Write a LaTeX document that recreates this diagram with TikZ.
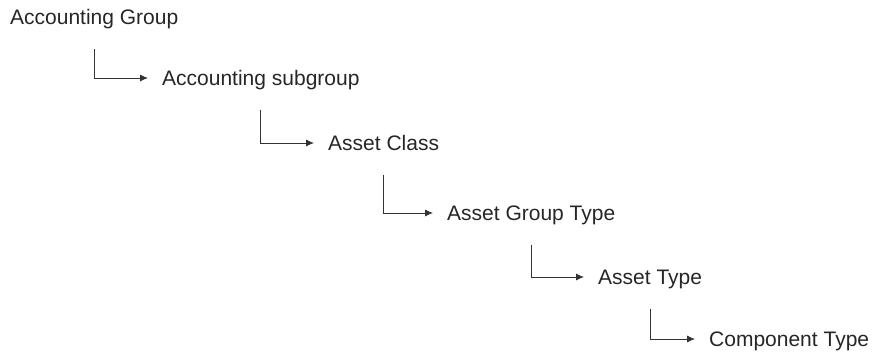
\documentclass[tikz,border=0pt]{standalone}
\usepackage{fontspec}
\setmainfont{Liberation Sans}
\usetikzlibrary{arrows.meta}

\begin{document}
\begin{tikzpicture}[x=1pt,y=-1pt,>={Latex[length=8pt,width=7pt]}]
      \tikzset{level/.style={anchor=west, inner xsep=14pt, inner ysep=0pt,
          text height=15pt, text depth=0pt, text=black!85,
          font=\fontsize{21}{25}\selectfont}}
      \useasboundingbox (0,0) rectangle (874,352);

      \node[level] (grp) at (-4,17) {Accounting Group};
      \node[level] (sub) at (148,78) {Accounting subgroup};
      \node[level] (cls) at (314,143) {Asset Class};
      \node[level] (agt) at (433,213) {Asset Group Type};
      \node[level] (typ) at (584,277) {Asset Type};
      \node[level] (cmp) at (695,339) {Component Type};

      \draw[->, line width=0.9pt, black!80] ([yshift=-24pt]grp.south) |- (sub.west);
      \draw[->, line width=0.9pt, black!80] ([yshift=-24pt]sub.south) |- (cls.west);
      \draw[->, line width=0.9pt, black!80] ([yshift=-24pt]cls.south) |- (agt.west);
      \draw[->, line width=0.9pt, black!80] ([yshift=-24pt]agt.south) |- (typ.west);
      \draw[->, line width=0.9pt, black!80] ([yshift=-24pt]typ.south) |- (cmp.west);
    \end{tikzpicture}
\end{document}
